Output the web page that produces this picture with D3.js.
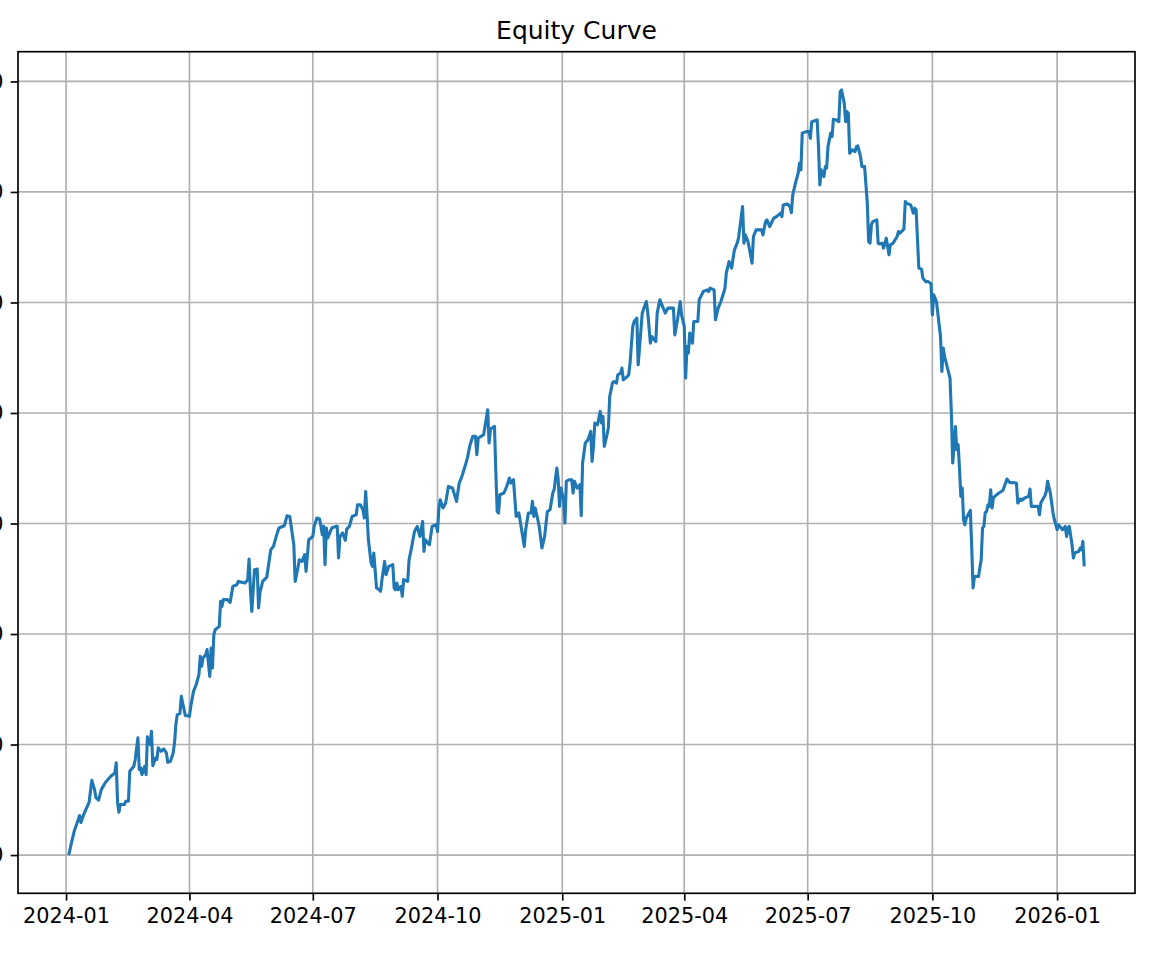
<!DOCTYPE html>
<html>
<head>
<meta charset="utf-8">
<script src="https://cdn.jsdelivr.net/npm/d3@7"></script>
<style>
  html, body { margin: 0; padding: 0; background: #ffffff; }
  svg { display: block; }
</style>
</head>
<body>
<svg id="chart" width="1172" height="955"></svg>
<script>
const chartTitle = "Equity Curve";

const dates = [
"2024-01-03","2024-01-05","2024-01-07","2024-01-10","2024-01-11","2024-01-12","2024-01-14","2024-01-18","2024-01-20","2024-01-22",
"2024-01-23","2024-01-25","2024-01-27","2024-01-30","2024-02-03","2024-02-06","2024-02-07","2024-02-08","2024-02-09","2024-02-10",
"2024-02-13","2024-02-14","2024-02-16","2024-02-17","2024-02-20","2024-02-21","2024-02-23","2024-02-24","2024-02-25","2024-02-26",
"2024-02-28","2024-02-29","2024-03-01","2024-03-02","2024-03-03","2024-03-04","2024-03-05","2024-03-07","2024-03-08","2024-03-09",
"2024-03-11","2024-03-13","2024-03-15","2024-03-16","2024-03-18","2024-03-20","2024-03-21","2024-03-22","2024-03-23","2024-03-25",
"2024-03-26","2024-03-27","2024-03-29","2024-04-01","2024-04-02","2024-04-04","2024-04-06","2024-04-08","2024-04-09","2024-04-10",
"2024-04-11","2024-04-13","2024-04-14","2024-04-16","2024-04-17","2024-04-18","2024-04-19","2024-04-20","2024-04-23","2024-04-24",
"2024-04-25","2024-04-26","2024-04-29","2024-05-01","2024-05-03","2024-05-06","2024-05-07","2024-05-12","2024-05-14","2024-05-15",
"2024-05-16","2024-05-17","2024-05-19","2024-05-21","2024-05-22","2024-05-23","2024-05-25","2024-05-28","2024-05-31","2024-06-02",
"2024-06-04","2024-06-06","2024-06-10","2024-06-12","2024-06-14","2024-06-17","2024-06-18","2024-06-20","2024-06-21","2024-06-23",
"2024-06-25","2024-06-26","2024-06-28","2024-07-01","2024-07-02","2024-07-04","2024-07-06","2024-07-07","2024-07-08","2024-07-09",
"2024-07-10","2024-07-11","2024-07-12","2024-07-13","2024-07-15","2024-07-18","2024-07-19","2024-07-20","2024-07-21","2024-07-23",
"2024-07-25","2024-07-26","2024-07-28","2024-07-30","2024-08-02","2024-08-03","2024-08-05","2024-08-07","2024-08-08","2024-08-09",
"2024-08-10","2024-08-11","2024-08-13","2024-08-14","2024-08-15","2024-08-17","2024-08-19","2024-08-20","2024-08-21","2024-08-23",
"2024-08-24","2024-08-26","2024-08-29","2024-08-30","2024-08-31","2024-09-01","2024-09-02","2024-09-04","2024-09-05","2024-09-06",
"2024-09-09","2024-09-10","2024-09-12","2024-09-14","2024-09-16","2024-09-18","2024-09-20","2024-09-21","2024-09-22","2024-09-25",
"2024-09-27","2024-09-30","2024-10-01","2024-10-02","2024-10-03","2024-10-05","2024-10-07","2024-10-09","2024-10-12","2024-10-15",
"2024-10-17","2024-10-19","2024-10-22","2024-10-23","2024-10-25","2024-10-27","2024-10-29","2024-10-30","2024-10-31","2024-11-04",
"2024-11-05","2024-11-07","2024-11-08","2024-11-09","2024-11-10","2024-11-12","2024-11-13","2024-11-14","2024-11-15","2024-11-16",
"2024-11-19","2024-11-21","2024-11-23","2024-11-24","2024-11-26","2024-11-28","2024-11-30","2024-12-02","2024-12-04","2024-12-05",
"2024-12-07","2024-12-09","2024-12-10","2024-12-11","2024-12-12","2024-12-14","2024-12-15","2024-12-17","2024-12-19","2024-12-21",
"2024-12-23","2024-12-25","2024-12-26","2024-12-28","2024-12-29","2024-12-30","2024-12-31","2025-01-02","2025-01-03","2025-01-04",
"2025-01-06","2025-01-08","2025-01-09","2025-01-10","2025-01-12","2025-01-14","2025-01-15","2025-01-16","2025-01-18","2025-01-20",
"2025-01-22","2025-01-23","2025-01-24","2025-01-25","2025-01-27","2025-01-29","2025-01-30","2025-01-31","2025-02-01","2025-02-03",
"2025-02-04","2025-02-05","2025-02-07","2025-02-08","2025-02-10","2025-02-11","2025-02-13","2025-02-14","2025-02-15","2025-02-18",
"2025-02-19","2025-02-20","2025-02-22","2025-02-23","2025-02-25","2025-02-26","2025-02-28","2025-03-01","2025-03-04","2025-03-05",
"2025-03-07","2025-03-08","2025-03-11","2025-03-12","2025-03-14","2025-03-16","2025-03-18","2025-03-20","2025-03-24","2025-03-25",
"2025-03-27","2025-03-29","2025-03-30","2025-04-01","2025-04-02","2025-04-03","2025-04-04","2025-04-05","2025-04-07","2025-04-08",
"2025-04-11","2025-04-12","2025-04-15","2025-04-18","2025-04-19","2025-04-20","2025-04-23","2025-04-24","2025-04-26","2025-04-28",
"2025-04-30","2025-05-01","2025-05-02","2025-05-04","2025-05-06","2025-05-07","2025-05-08","2025-05-10","2025-05-11","2025-05-14",
"2025-05-15","2025-05-16","2025-05-18","2025-05-21","2025-05-22","2025-05-24","2025-05-28","2025-05-29","2025-05-31","2025-06-01",
"2025-06-03","2025-06-06","2025-06-08","2025-06-11","2025-06-12","2025-06-13","2025-06-16","2025-06-18","2025-06-19","2025-06-20",
"2025-06-22","2025-06-24","2025-06-25","2025-06-26","2025-06-27","2025-06-30","2025-07-02","2025-07-03","2025-07-04","2025-07-08",
"2025-07-09","2025-07-10","2025-07-11","2025-07-13","2025-07-14","2025-07-15","2025-07-16","2025-07-18","2025-07-19","2025-07-20",
"2025-07-22","2025-07-24","2025-07-25","2025-07-26","2025-07-28","2025-07-29","2025-07-30","2025-07-31","2025-08-01","2025-08-03",
"2025-08-05","2025-08-06","2025-08-07","2025-08-09","2025-08-10","2025-08-12","2025-08-14","2025-08-15","2025-08-16","2025-08-17",
"2025-08-18","2025-08-21","2025-08-22","2025-08-23","2025-08-25","2025-08-26","2025-08-28","2025-08-30","2025-08-31","2025-09-02",
"2025-09-05","2025-09-06","2025-09-07","2025-09-10","2025-09-11","2025-09-12","2025-09-15","2025-09-17","2025-09-18","2025-09-19",
"2025-09-21","2025-09-23","2025-09-24","2025-09-26","2025-09-28","2025-09-30","2025-10-01","2025-10-02","2025-10-04","2025-10-07",
"2025-10-08","2025-10-09","2025-10-10","2025-10-14","2025-10-15","2025-10-16","2025-10-18","2025-10-19","2025-10-20","2025-10-21",
"2025-10-22","2025-10-23","2025-10-24","2025-10-25","2025-10-26","2025-10-28","2025-10-29","2025-10-30","2025-10-31","2025-11-01",
"2025-11-04","2025-11-06","2025-11-07","2025-11-08","2025-11-09","2025-11-10","2025-11-11","2025-11-12","2025-11-13","2025-11-14",
"2025-11-15","2025-11-16","2025-11-19","2025-11-22","2025-11-24","2025-11-25","2025-11-27","2025-12-02","2025-12-03","2025-12-05",
"2025-12-06","2025-12-08","2025-12-11","2025-12-12","2025-12-13","2025-12-16","2025-12-18","2025-12-19","2025-12-20","2025-12-22",
"2025-12-23","2025-12-24","2025-12-25","2025-12-27","2025-12-29","2025-12-30","2026-01-01","2026-01-02","2026-01-03","2026-01-05",
"2026-01-07","2026-01-08","2026-01-09","2026-01-10","2026-01-12","2026-01-13","2026-01-14","2026-01-17","2026-01-18","2026-01-19",
"2026-01-20","2026-01-21"
];

const equity = [
10000,10113,10215,10321,10357,10294,10366,10478,10676,10592,
10520,10496,10592,10656,10713,10743,10834,10472,10387,10457,
10457,10487,10487,10758,10803,10864,11060,10773,10789,10728,
10803,10728,11069,11029,10999,11120,10809,10879,10864,10970,
10939,10960,10924,10839,10848,10924,11015,11180,11271,11280,
11436,11376,11262,11255,11346,11481,11542,11632,11798,11708,
11783,11813,11859,11617,11874,11693,11994,12039,12069,12295,
12250,12311,12311,12286,12431,12446,12476,12462,12492,12679,
12401,12205,12582,12588,12236,12371,12476,12512,12763,12793,
12883,12959,12980,13070,13064,12808,12476,12597,12672,12657,
12718,12567,12853,12883,12974,13050,13041,12974,12899,12974,
12627,12959,12869,12899,12959,12974,12974,12688,12883,12914,
12847,12950,12974,13064,13079,13170,13170,13125,13050,13290,
13079,12853,12643,12612,12733,12417,12401,12386,12492,12657,
12537,12612,12627,12417,12401,12462,12401,12431,12341,12492,
12476,12672,12793,12928,12974,12883,13019,12748,12853,12808,
12974,12989,12928,13140,13215,13140,13185,13335,13321,13200,
13366,13426,13547,13592,13713,13788,13788,13622,13773,13803,
13878,14029,13728,13848,13864,13878,13471,13109,13095,13260,
13276,13335,13411,13366,13396,13064,13095,12944,12793,12944,
13095,13095,13200,13064,13140,13034,12974,12778,12883,13109,
13125,13276,13306,13502,13396,13155,13321,13215,13004,13381,
13396,13396,13276,13381,13321,13351,13070,13547,13728,13758,
13833,13562,13697,13909,13893,14014,13909,13969,13697,13803,
13864,14149,14271,14285,14271,14346,14361,14406,14300,14330,
14346,14451,14782,14828,14858,14436,14753,14904,15009,14918,
14632,14692,14647,14904,15024,14963,14904,14949,14949,14707,
14843,15009,14888,14782,14316,14602,14542,14723,14632,14828,
14828,15024,15099,15114,15099,15130,15114,14843,14949,15009,
15085,15130,15265,15370,15311,15401,15476,15537,15582,15868,
15537,15612,15551,15356,15597,15657,15657,15612,15732,15747,
15687,15763,15777,15808,15777,15883,15892,15868,15813,15974,
16079,16170,16260,16200,16532,16546,16546,16486,16636,16652,
16410,16064,16200,16139,16229,16215,16410,16532,16501,16658,
16652,16636,16908,16923,16803,16636,16727,16712,16351,16381,
16365,16410,16417,16320,16229,16229,15898,15551,15537,15702,
15732,15747,15537,15530,15537,15492,15582,15431,15521,15537,
15597,15642,15627,15663,15913,15898,15883,15808,15853,15838,
15311,15302,15220,15189,15189,15169,14888,15069,15009,14692,
14375,14587,14511,14316,13999,13547,13878,13667,13713,13502,
13245,13321,13034,12989,13050,13095,13118,12793,12417,12521,
12521,12672,12959,12974,13100,13109,13170,13155,13306,13140,
13231,13245,13276,13299,13366,13402,13372,13366,13185,13222,
13209,13231,13245,13312,13155,13155,13155,13079,13185,13231,
13251,13290,13381,13276,13095,13034,12944,12989,12974,12944,
12974,12883,12959,12974,12808,12688,12733,12748,12778,12763,
12838,12612
];

const xTickLabels = ["2024-01","2024-04","2024-07","2024-10","2025-01","2025-04","2025-07","2025-10","2026-01"];
const yTickValues = [10000, 11000, 12000, 13000, 14000, 15000, 16000, 17000];

// ---- layout ----
const W = 1172, H = 955;
const axL = 18, axR = 1135, axT = 51.7, axB = 893.3;
const FONT = "DejaVu Sans, Liberation Sans, sans-serif";
const tickLen = 7.3, tickPad = 7.3;

const parse = d3.utcParse("%Y-%m-%d");
const parseMonth = d3.utcParse("%Y-%m");
const data = dates.map((d, i) => ({ date: parse(d), value: equity[i] }));

// matplotlib-like 5% margins
const xExt = d3.extent(data, d => d.date.getTime());
const xPad = (xExt[1] - xExt[0]) * 0.05;
const yExt = d3.extent(data, d => d.value);
const yPad = (yExt[1] - yExt[0]) * 0.05;

const x = d3.scaleUtc()
  .domain([new Date(xExt[0] - xPad), new Date(xExt[1] + xPad)])
  .range([axL, axR]);
const y = d3.scaleLinear()
  .domain([yExt[0] - yPad, yExt[1] + yPad])
  .range([axB, axT]);

const svg = d3.select("#chart");
svg.append("rect").attr("width", W).attr("height", H).attr("fill", "#ffffff");

const xTicks = xTickLabels.map(s => parseMonth(s));

// grid
const grid = svg.append("g");
grid.selectAll("line.gx").data(xTicks).enter().append("line")
  .attr("x1", d => x(d)).attr("x2", d => x(d))
  .attr("y1", axT).attr("y2", axB)
  .attr("stroke", "#b0b0b0").attr("stroke-width", 1.67);
grid.selectAll("line.gy").data(yTickValues).enter().append("line")
  .attr("x1", axL).attr("x2", axR)
  .attr("y1", d => y(d)).attr("y2", d => y(d))
  .attr("stroke", "#b0b0b0").attr("stroke-width", 1.67);

// line
const line = d3.line().x(d => x(d.date)).y(d => y(d.value));
svg.append("path").datum(data)
  .attr("d", line)
  .attr("fill", "none")
  .attr("stroke", "#1f77b4")
  .attr("stroke-width", 3.1)
  .attr("stroke-linejoin", "round")
  .attr("stroke-linecap", "butt");

// axes
const xAxis = d3.axisBottom(x).tickValues(xTicks)
  .tickFormat((d, i) => xTickLabels[i])
  .tickSize(tickLen).tickPadding(tickPad).tickSizeOuter(0);
const gx = svg.append("g").attr("transform", `translate(0,${axB})`).call(xAxis);
gx.select(".domain").remove();
gx.selectAll(".tick line").attr("stroke", "#000").attr("stroke-width", 1.67);
gx.selectAll(".tick text").attr("fill", "#000")
  .style("font-family", FONT).style("font-size", "20.8px");

const yAxis = d3.axisLeft(y).tickValues(yTickValues)
  .tickFormat(d3.format("d"))
  .tickSize(tickLen).tickPadding(tickPad).tickSizeOuter(0);
const gy = svg.append("g").attr("transform", `translate(${axL},0)`).call(yAxis);
gy.select(".domain").remove();
gy.selectAll(".tick line").attr("stroke", "#000").attr("stroke-width", 1.67);
gy.selectAll(".tick text").attr("fill", "#000")
  .style("font-family", FONT).style("font-size", "20.8px");

// spines
svg.append("rect")
  .attr("x", axL).attr("y", axT)
  .attr("width", axR - axL).attr("height", axB - axT)
  .attr("fill", "none").attr("stroke", "#000").attr("stroke-width", 1.67);

// title
svg.append("text")
  .attr("x", (axL + axR) / 2).attr("y", axT - 12.5)
  .attr("text-anchor", "middle")
  .style("font-family", FONT).style("font-size", "25px")
  .attr("fill", "#000")
  .text(chartTitle);
</script>
</body>
</html>
